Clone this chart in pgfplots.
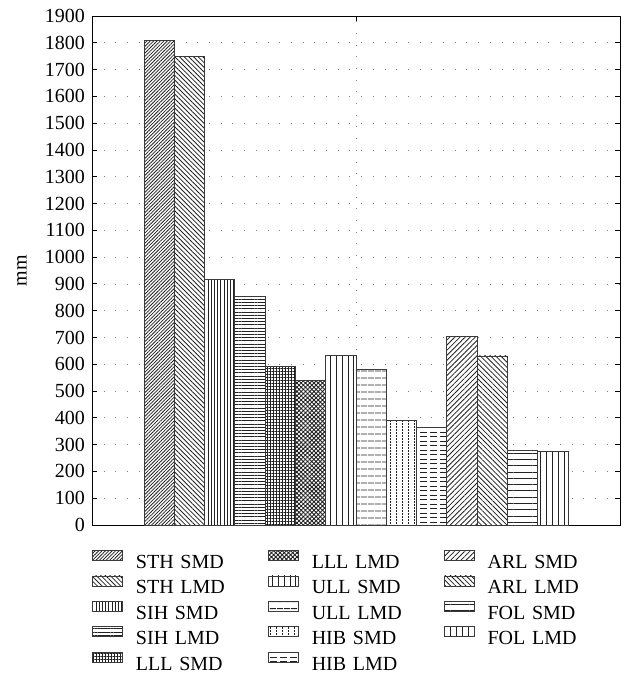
\documentclass[border=0pt]{standalone}
\usepackage{fontspec}
\setmainfont{Liberation Serif}
\usepackage{pgfplots}
\pgfplotsset{compat=1.18}
\usetikzlibrary{patterns.meta}
\definecolor{barc}{HTML}{3A3A3A}
\definecolor{patc}{HTML}{222222}
\newcommand\fs{\fontsize{20}{23}\selectfont}
\tikzdeclarepattern{name=VDots, type=uncolored,
  bounding box={(-0.5pt,-0.5pt) and (6.5pt,3.5pt)},
  tile size={(6pt,3pt)},
  code={\fill (0pt,0pt) rectangle (0.8pt,1.5pt);}}
\tikzdeclarepattern{name=HDash, type=uncolored,
  bounding box={(-0.5pt,-0.5pt) and (10.5pt,5pt)},
  tile size={(10pt,4.5pt)},
  code={\fill (0pt,0pt) rectangle (6.5pt,0.9pt);}}
\tikzset{pat/.style={fill=white, postaction={pattern={#1}, pattern color=patc}}}
\begin{document}
\begin{tikzpicture}
\begin{axis}[
  at={(0pt,0pt)}, anchor=south west,
  scale only axis, width=528pt, height=509pt,
  xmin=-1.217, xmax=16.215, ymin=0, ymax=1900,
  ytick={0,100,...,1900},
  xtick={7.5}, xticklabels={},
  ybar, bar shift=0pt, bar width=1,
  legend image code/.code={\draw[#1, line width=0.8pt] (0pt,3.5pt) rectangle (30pt,13.5pt);},
  grid=major,
  major grid style={line width=0.7pt, gray, dash pattern=on 0.7pt off 11pt},
  tick align=inside, major tick length=5pt,
  tick style={black, line width=0.8pt},
  axis line style={line width=0.9pt},
  /pgf/number format/assume math mode=true,
  /pgf/number format/1000 sep={},
  yticklabel style={font=\fs, xshift=-3.5pt},
  ylabel={mm},
  ylabel style={font=\fs, at={(axis description cs:-0.1326,0.5)}, anchor=center},
  legend columns=5, transpose legend,
  legend style={draw=none, fill=none, inner sep=0pt, font=\fs,
    at={(axis description cs:0,-0.049)}, anchor=north west,
    nodes={inner sep=0pt, text height=14pt, text depth=5pt, text width=120pt, align=left},
    row sep=2pt,
    /tikz/every odd column/.append style={column sep=13pt},
    /tikz/every even column/.append style={column sep=12pt}},
  legend cell align=left,
]
\addplot[draw=barc, line width=0.9pt, pat={Lines[angle=45,distance=2.4pt,line width=0.8pt]}] coordinates {(1,1810)};
\addlegendentry{STH SMD}
\addplot[draw=barc, line width=0.9pt, pat={Lines[angle=-45,distance=3.3pt,line width=0.8pt]}] coordinates {(2,1748)};
\addlegendentry{STH LMD}
\addplot[draw=barc, line width=0.9pt, pat={Lines[angle=90,distance=3.2pt,line width=0.8pt]}] coordinates {(3,918)};
\addlegendentry{SIH SMD}
\addplot[draw=barc, line width=0.9pt, pat={Lines[angle=0,distance=3.2pt,line width=0.8pt]}] coordinates {(4,853)};
\addlegendentry{SIH LMD}
\addplot[draw=barc, line width=0.9pt, pat={Hatch[angle=0,distance=3pt,line width=0.7pt]}] coordinates {(5,592)};
\addlegendentry{LLL SMD}
\addplot[draw=barc, line width=0.9pt, pat={Hatch[angle=45,distance=3pt,line width=0.9pt]}] coordinates {(6,540)};
\addlegendentry{LLL LMD}
\addplot[draw=barc, line width=0.9pt, pat={Lines[angle=90,distance=5.8pt,line width=0.9pt]}] coordinates {(7,633)};
\addlegendentry{ULL SMD}
\addplot[draw=barc, line width=0.9pt, pat={Lines[angle=0,distance=6.5pt,line width=1pt]}] coordinates {(8,582)};
\addlegendentry{ULL LMD}
\addplot[draw=barc, line width=0.9pt, pat={VDots}] coordinates {(9,392)};
\addlegendentry{HIB SMD}
\addplot[draw=barc, line width=0.9pt, pat={HDash}] coordinates {(10,363)};
\addlegendentry{HIB LMD}
\addplot[draw=barc, line width=0.9pt, pat={Lines[angle=45,distance=3.6pt,line width=0.8pt]}] coordinates {(11,705)};
\addlegendentry{ARL SMD}
\addplot[draw=barc, line width=0.9pt, pat={Lines[angle=-45,distance=3.6pt,line width=0.8pt]}] coordinates {(12,631)};
\addlegendentry{ARL LMD}
\addplot[draw=barc, line width=0.9pt, pat={Lines[angle=0,distance=6.3pt,line width=1pt]}] coordinates {(13,277)};
\addlegendentry{FOL SMD}
\addplot[draw=barc, line width=0.9pt, pat={Lines[angle=90,distance=6pt,line width=0.9pt]}] coordinates {(14,275)};
\addlegendentry{FOL LMD}
\end{axis}
\path (-92pt,-155pt) rectangle (533pt,525pt);
\end{tikzpicture}
\end{document}
